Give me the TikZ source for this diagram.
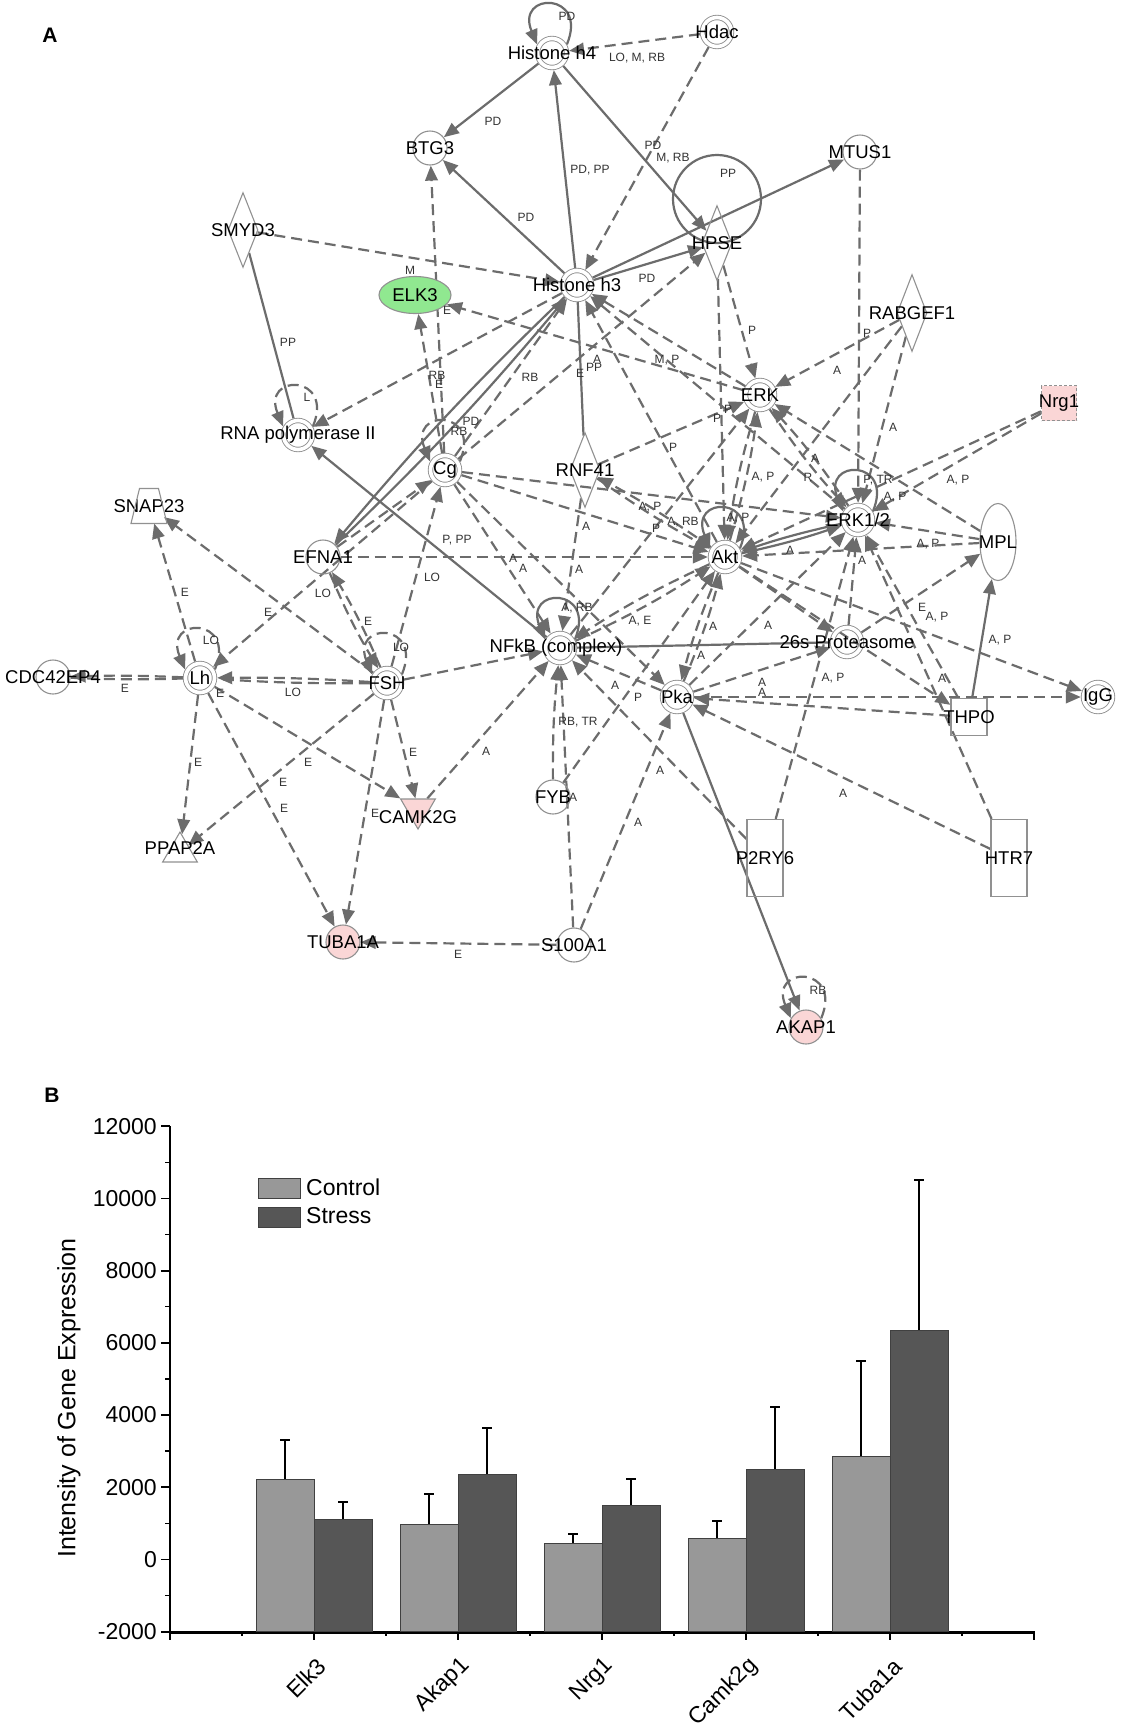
\documentclass[tikz,border=0pt]{standalone}
\usepackage{fontspec}
\setmainfont{Liberation Sans}
\usetikzlibrary{shapes.geometric,arrows.meta,backgrounds}
\definecolor{eg}{RGB}{108,108,108}
\definecolor{ng}{RGB}{145,145,145}
\definecolor{pinkf}{RGB}{250,214,214}
\definecolor{greenf}{RGB}{144,232,144}
\definecolor{barl}{RGB}{152,152,152}
\definecolor{bard}{RGB}{86,86,86}
\begin{document}
\begin{tikzpicture}[x=1pt,y=-1pt,
  nlab/.style={font=\fontsize{18.5}{18.5}\selectfont, text=black, inner sep=0pt},
  gn/.style={label={[nlab]center:#1}},
  nbase/.style={draw=ng, line width=1.1pt, inner sep=0pt, outer sep=0.6pt},
  cc/.style={nbase, circle, minimum size=34pt},
  dc/.style={nbase, circle, minimum size=29pt, line width=0.9pt, double=white, double distance=3.6pt, outer sep=2.7pt},
  dia/.style={nbase, diamond, minimum width=30pt, minimum height=75pt},
  boxn/.style={nbase, rectangle, minimum width=36pt, minimum height=37pt},
  talln/.style={nbase, rectangle, minimum width=36pt, minimum height=77pt},
  el/.style={font=\fontsize{12}{12}\selectfont, text=black!80, inner sep=0pt},
  atip/.style={-{Triangle[length=15pt,width=12.5pt]}},
  so/.style={draw=eg, line width=2.2pt, atip},
  sn/.style={draw=eg, line width=2.2pt},
  de/.style={draw=eg, line width=2.2pt, dash pattern=on 11pt off 6pt, atip},
  dn/.style={draw=eg, line width=2.2pt, dash pattern=on 11pt off 6pt},
  axl/.style={font=\fontsize{23}{23}\selectfont, inner sep=0pt}
]
\useasboundingbox (0,0) rectangle (1129,1730);

% ---------------- panel A nodes ----------------
\node[font=\bfseries\fontsize{21}{21}\selectfont] (pa) at (50,35) {A};

\node[dc,gn={Histone h4}] (hh4) at (552,53) {};
\node[dc,gn={Hdac}] (hdac) at (717,32) {};
\node[cc,gn={BTG3}] (btg3) at (430,148) {};
\node[cc,gn={MTUS1}] (mtus1) at (860,152) {};
\node[dia,gn={SMYD3}] (smyd3) at (243,230) {};
\node[dia,gn={HPSE}] (hpse) at (717,243) {};
\node[dc,gn={Histone h3}] (hh3) at (577,285) {};
\node[nbase,ellipse,minimum width=72pt,minimum height=37pt,fill=greenf,gn={ELK3}] (elk3) at (415,295) {};
\node[dia,minimum height=77pt,gn={RABGEF1}] (rabgef1) at (912,313) {};
\node[dc,gn={ERK}] (erk) at (760,395) {};
\node[nbase,rectangle,minimum width=35pt,minimum height=35pt,fill=pinkf,dash pattern=on 3pt off 2pt,gn={Nrg1}] (nrg1) at (1059,403) {};
\node[dc,gn={RNA polymerase II}] (rnapol) at (298,435) {};
\node[dc,gn={Cg}] (cg) at (445,470) {};
\node[dia,gn={RNF41}] (rnf41) at (585,470) {};
\node[inner sep=0pt, outer sep=0pt, minimum width=30pt, minimum height=35pt, gn={SNAP23}] (snap23) at (149,506) {};
\draw[draw=ng, line width=1.1pt] ([xshift=-9.5pt]snap23.north) -- ([xshift=9.5pt]snap23.north) -- ([xshift=18pt]snap23.south) -- ([xshift=-18pt]snap23.south) -- cycle;
\node[cc,gn={EFNA1}] (efna1) at (323,557) {};
\node[dc,gn={ERK1/2}] (erk12) at (858,520) {};
\node[dc,gn={Akt}] (akt) at (725,557) {};
\node[nbase,ellipse,minimum width=36pt,minimum height=77pt,gn={MPL}] (mpl) at (998,542) {};
\node[dc,gn={26s Proteasome}] (p26s) at (847,642) {};
\node[dc,label={[nlab,xshift=-4pt]center:NFkB (complex)}] (nfkb) at (560,648) {};
\node[cc,gn={CDC42EP4}] (cdc) at (53,677) {};
\node[dc,gn={Lh}] (lh) at (200,678) {};
\node[dc,gn={FSH}] (fsh) at (387,683) {};
\node[dc,gn={Pka}] (pka) at (677,697) {};
\node[dc,gn={IgG}] (igg) at (1098,697) {};
\node[boxn,gn={THPO}] (thpo) at (969,717) {};
\node[cc,gn={FYB}] (fyb) at (553,797) {};
\node[nbase,regular polygon,regular polygon sides=3,shape border rotate=180,minimum size=40pt,fill=pinkf,label={[nlab,yshift=-8pt]center:CAMK2G}] (camk2g) at (418,809) {};
\node[nbase,regular polygon,regular polygon sides=3,minimum size=40pt,label={[nlab,yshift=4pt]center:PPAP2A}] (ppap2a) at (180,852) {};
\node[talln,gn={P2RY6}] (p2ry6) at (765,858) {};
\node[talln,gn={HTR7}] (htr7) at (1009,858) {};
\node[cc,fill=pinkf,gn={TUBA1A}] (tuba1a) at (343,942) {};
\node[cc,gn={S100A1}] (s100a1) at (574,945) {};
\node[cc,fill=pinkf,gn={AKAP1}] (akap1) at (806,1027) {};

% ---------------- connectors ----------------
\begin{pgfonlayer}{background}
\fill[white] (0,0) rectangle (1129,1730);
% self loops
\draw[so] (hh4.30) .. controls +(22,-53) and +(-22,-53) .. (hh4.150);
\draw[so] (nfkb.30) .. controls +(22,-53) and +(-22,-53) .. (nfkb.150);
\draw[so] (akt.30) .. controls +(22,-53) and +(-22,-53) .. (akt.150);
\draw[so] (erk12.30) .. controls +(22,-53) and +(-22,-53) .. (erk12.150);
\draw[de] (lh.30) .. controls +(22,-53) and +(-22,-53) .. (lh.150);
\draw[de] (fsh.30) .. controls +(22,-53) and +(-22,-53) .. (fsh.150);
\draw[de] (rnapol.30) .. controls +(22,-53) and +(-22,-53) .. (rnapol.150);
\draw[de] (cg.30) .. controls +(22,-53) and +(-22,-53) .. (cg.150);
\draw[de] (akap1.30) .. controls +(22,-53) and +(-22,-53) .. (akap1.150);
\draw[sn] ([yshift=44pt]hpse.center) circle[radius=44pt];
% solid
\draw[so] (hh4) -- (btg3);
\draw[so] (hh3) -- (hh4);
\draw[so] (hh3) -- (btg3);
\draw[so] (hh4) -- (hpse);
\draw[so] (hh3) -- (hpse);
\draw[so] (hh3) -- (mtus1);
\draw[so] (nfkb) -- (rnapol);
\draw[so] (hh3) to[bend right=3] (efna1);
\draw[so] (efna1) to[bend right=3] (hh3);
\draw[so] (thpo) -- (mpl);
\draw[so] (pka) -- (akap1);
\draw[so] (akt) to[bend right=3] (erk12);
\draw[so] (erk12) to[bend right=3] (akt);
\draw[sn] (smyd3) -- (rnapol);
\draw[sn] (hh3) -- (rnf41);
\draw[sn] (nfkb) -- (p26s);
% dashed
\draw[de] (hdac) -- (hh4);
\draw[de] (hdac) -- (hh3);
\draw[de] (smyd3) -- (hh3);
\draw[de] (cg) -- (btg3);
\draw[de] (cg) -- (elk3);
\draw[de] (erk) -- (elk3);
\draw[de] (cg) -- (hh3);
\draw[de] (cg) -- (hpse);
\draw[de] (hh3) -- (rnapol);
\draw[de] (hpse) -- (erk);
\draw[de] (hpse) -- (akt);
\draw[de] (mtus1) -- (erk12);
\draw[de] (rabgef1) -- (erk);
\draw[de] (rabgef1) -- (erk12);
\draw[de] (rabgef1) -- (akt);
\draw[de] (rnf41) -- (erk);
\draw[de] (nfkb) -- (erk);
\draw[de] (akt) to[bend right=4] (erk);
\draw[de] (erk) to[bend right=4] (akt);
\draw[de] (erk) to[bend right=4] (erk12);
\draw[de] (erk12) to[bend right=4] (erk);
\draw[de] (mpl) -- (erk);
\draw[de] (nrg1) -- (erk12);
\draw[de] (nrg1) -- (akt);
\draw[de] (mpl) -- (erk12);
\draw[de] (mpl) -- (akt);
\draw[de] (p26s) -- (mpl);
\draw[de] (akt) -- (igg);
\draw[de] (pka) -- (igg);
\draw[de] (thpo) -- (pka);
\draw[de] (htr7) -- (pka);
\draw[de] (htr7) -- (erk12);
\draw[de] (thpo) -- (erk12);
\draw[de] (p2ry6) -- (erk12);
\draw[de] (p26s) -- (erk12);
\draw[de] (akt) -- (p26s);
\draw[de] (pka) -- (p26s);
\draw[de] (pka) -- (erk12);
\draw[de] (pka) to[bend right=4] (akt);
\draw[de] (akt) to[bend right=4] (pka);
\draw[de] (pka) -- (nfkb);
\draw[de] (nfkb) to[bend right=4] (akt);
\draw[de] (akt) to[bend right=4] (nfkb);
\draw[de] (akt) to[bend right=3] (rnf41);
\draw[de] (rnf41) to[bend right=3] (akt);
\draw[de] (rnf41) -- (nfkb);
\draw[de] (cg) -- (nfkb);
\draw[de] (cg) -- (pka);
\draw[de] (cg) -- (akt);
\draw[de] (cg) -- (erk12);
\draw[de] (efna1) -- (cg);
\draw[de] (efna1) -- (akt);
\draw[de] (fsh) -- (cg);
\draw[de] (fsh) to[bend right=4] (efna1);
\draw[de] (efna1) to[bend right=4] (fsh);
\draw[de] (cg) -- (lh);
\draw[de] (fsh) to[bend right=2] (lh);
\draw[dn] (fsh) to[bend left=2] (lh);
\draw[de] (lh) to[bend right=2] (cdc);
\draw[dn] (lh) to[bend left=2] (cdc);
\draw[de] (lh) -- (snap23);
\draw[de] (fsh) -- (snap23);
\draw[de] (lh) -- (ppap2a);
\draw[de] (fsh) -- (ppap2a);
\draw[de] (lh) -- (camk2g);
\draw[de] (fsh) -- (camk2g);
\draw[de] (lh) -- (tuba1a);
\draw[de] (fsh) -- (tuba1a);
\draw[de] (fsh) -- (nfkb);
\draw[de] (camk2g) -- (nfkb);
\draw[de] (fyb) to[bend left=3] (nfkb);
\draw[de] (s100a1) -- (nfkb);
\draw[de] (s100a1) -- (pka);
\draw[de] (s100a1) -- (tuba1a);
\draw[de] (fyb) -- (akt);
\draw[de] (p2ry6) -- (nfkb);
\draw[de] (erk) -- (hh3);
\draw[de] (erk12) -- (hh3);
\draw[de] (akt) -- (hh3);
\draw[de] (akt) -- (thpo);
\end{pgfonlayer}

% ---------------- connector labels ----------------
\foreach \x/\y/\t [count=\i] in {567/16/PD, 637/58/{LO, M, RB}, 493/121/PD, 590/170/{PD, PP}, 653/145/PD, 673/158/{M, RB}, 728/173/PP, 526/217/PD, 647/278/PD, 410/270/M, 447/310/E, 752/330/P, 867/333/P, 288/342/PP, 307/397/L, 437/375/RB, 439/384/E, 530/377/RB, 580/373/E, 594/367/PP, 597/359/A, 667/360/{M, P}, 471/421/PD, 459/431/RB, 717/418/P, 728/409/P, 673/447/P, 763/477/{A, P}, 650/507/{A, P}, 683/522/{A, RB}, 738/518/{A, P}, 656/528/P, 586/526/A, 457/540/{P, PP}, 513/558/A, 523/568/A, 579/569/A, 432/577/LO, 577/608/{A, RB}, 640/621/{A, E}, 713/626/A, 768/625/A, 401/647/LO, 701/655/A, 615/685/A, 638/697/P, 762/682/A, 762/692/A, 837/370/A, 893/427/A, 815/458/A, 808/477/R, 878/480/{P, TR}, 895/497/{A, P}, 958/480/{A, P}, 928/544/{A, P}, 790/550/A, 862/560/A, 922/607/E, 937/617/{A, P}, 1000/640/{A, P}, 833/678/{A, P}, 942/678/A, 185/592/E, 323/593/LO, 268/612/E, 368/621/E, 211/640/LO, 125/688/E, 293/692/LO, 220/693/E, 198/762/E, 308/762/E, 283/782/E, 284/808/E, 375/813/E, 413/752/E, 486/751/A, 578/722/{RB, TR}, 660/770/A, 638/822/A, 573/797/A, 458/954/E, 843/793/A, 818/990/RB}
  \node[el] (lab\i) at (\x,\y) {\t};

% ---------------- panel B ----------------
\node[font=\bfseries\fontsize{21}{21}\selectfont] (pb) at (52,1095) {B};
\draw[line width=2.3pt] (170,1126) -- (170,1640);
\draw[line width=3pt] (168.85,1632) -- (1035,1632);
\foreach \k/\v in {0/12000,1/10000,2/8000,3/6000,4/4000,5/2000,6/0,7/-2000} {
  \draw[line width=1.8pt] (170,{1126.2+72.2*\k}) -- ++(-9,0);
  \node[axl,anchor=east] (yt\k) at (157,{1126.2+72.2*\k}) {\v};
}
\foreach \k in {0,...,6}
  \draw[line width=1.5pt] (170,{1162.3+72.2*\k}) -- ++(-5,0);
\foreach \xx in {314,458,602,746,890,1034}
  \draw[line width=2pt] (\xx,1632) -- ++(0,8);
\foreach \xx in {242,386,530,674,818,962}
  \draw[line width=2pt] (\xx,1632) -- ++(0,4);
\foreach \c/\ct/\ce/\st/\se/\nm in {314/1479.7/1440.3/1519.4/1501.5/Elk3, 458/1524.5/1493.8/1474.1/1428/Akap1, 602/1543.8/1534.4/1505.3/1478.8/Nrg1, 746/1538.6/1520.7/1469.4/1407/Camk2g, 890/1456.6/1360.9/1330.5/1179.7/Tuba1a} {
  \draw[line width=2pt] (\c-29,\ct) -- (\c-29,\ce) (\c-34,\ce) -- (\c-24,\ce);
  \draw[line width=2pt] (\c+29,\st) -- (\c+29,\se) (\c+24,\se) -- (\c+34,\se);
  \filldraw[fill=barl, draw=black!75, line width=1pt] (\c-58,1631) rectangle (\c,\ct);
  \filldraw[fill=bard, draw=black!75, line width=1pt] (\c,1631) rectangle (\c+58,\st);
  \node[axl,rotate=45,anchor=east] (cat\nm) at (\c+8,1662) {\nm};
}
\filldraw[fill=barl, draw=black!75, line width=1pt] (258,1178) rectangle (300,1198);
\filldraw[fill=bard, draw=black!75, line width=1pt] (258,1207) rectangle (300,1227);
\node[axl,anchor=west] (legc) at (306,1187) {Control};
\node[axl,anchor=west] (legs) at (306,1216) {Stress};
\node[rotate=90, font=\fontsize{25}{25}\selectfont, inner sep=0pt] (ylab) at (69,1398) {Intensity of Gene Expression};
\end{tikzpicture}
\end{document}
